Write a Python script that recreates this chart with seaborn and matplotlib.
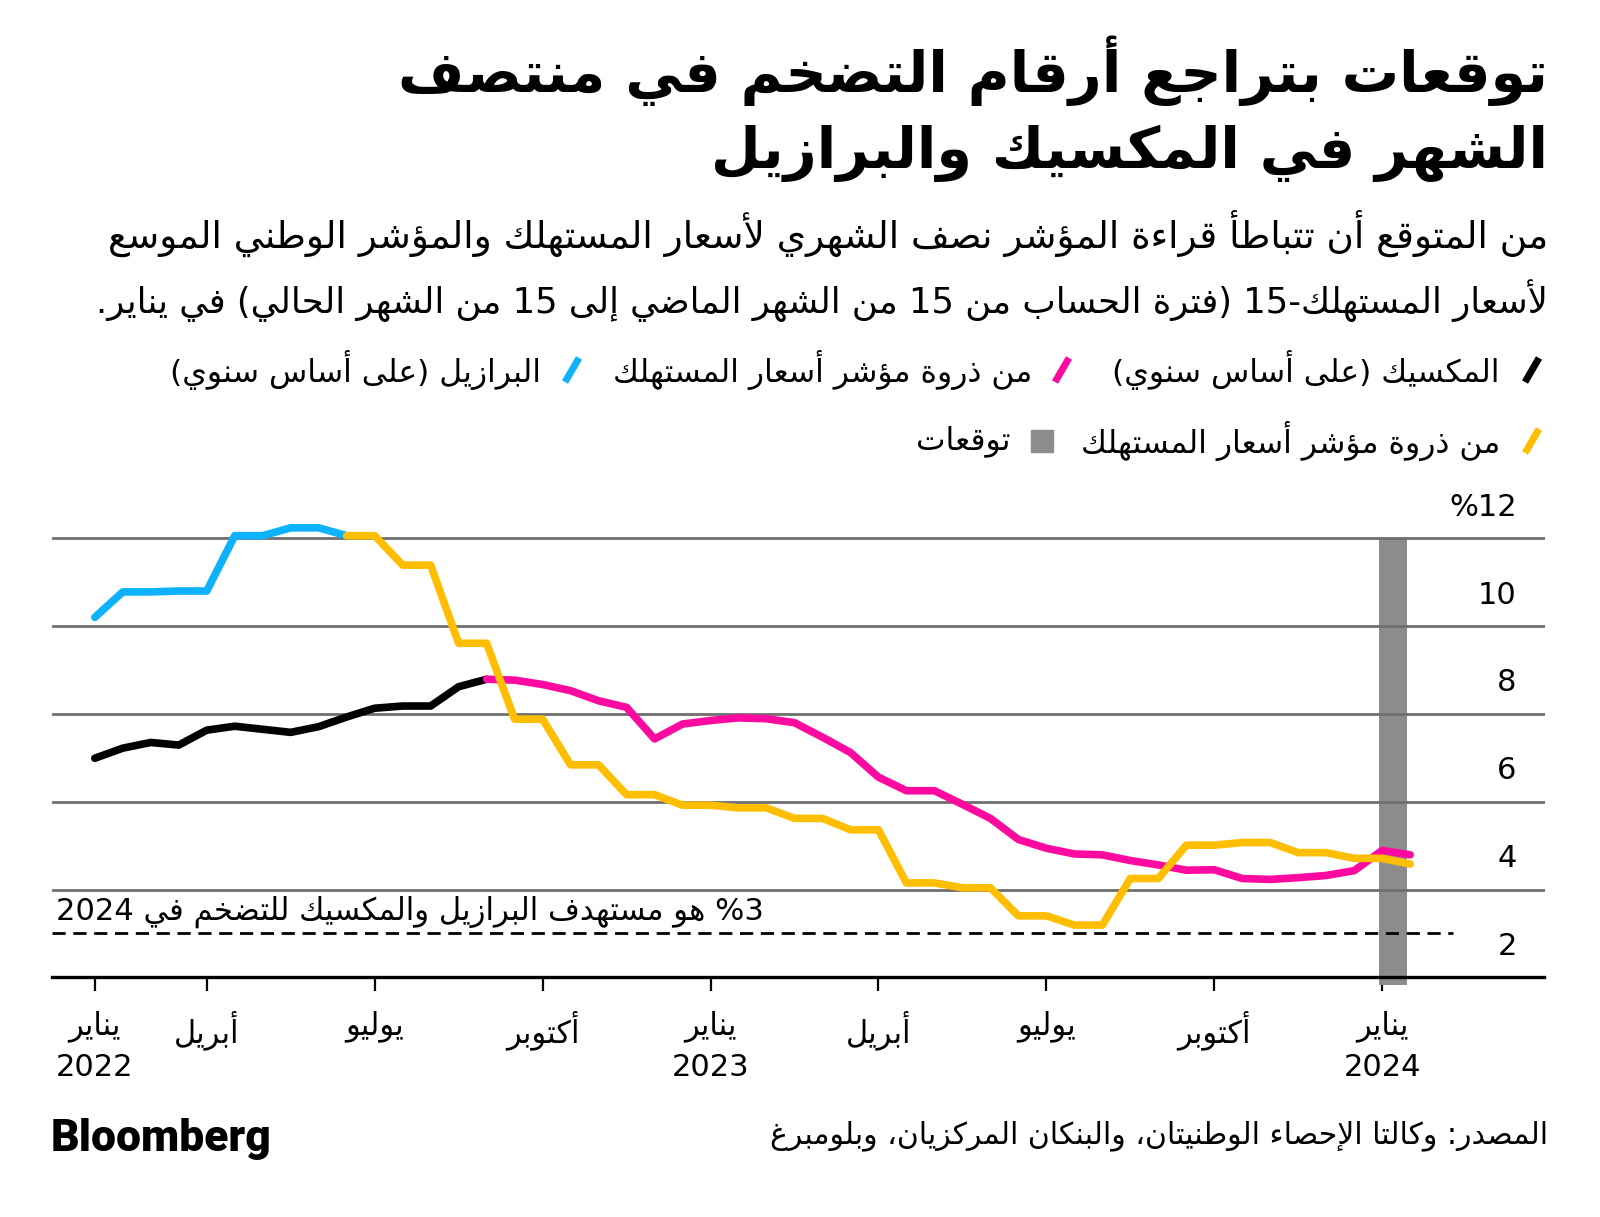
import re
import numpy as np
import pandas as pd
import seaborn as sns
import matplotlib
matplotlib.use("Agg")
import matplotlib.pyplot as plt
from matplotlib.lines import Line2D
from matplotlib.patches import Rectangle
import matplotlib.transforms as mtransforms

# ---------------- données ----------------
# axe x : mois écoulés depuis janvier 2022, relevés tous les demi-mois
mois = np.arange(1.0, 25.0, 0.5)

mexique = [6.99, 7.22, 7.35, 7.29, 7.63, 7.72, 7.65, 7.58, 7.71, 7.93,
           8.13, 8.18, 8.18, 8.62, 8.79, 8.77, 8.67, 8.53, 8.30, 8.15,
           7.43, 7.77, 7.85, 7.91, 7.89, 7.80, 7.47, 7.12, 6.56, 6.25,
           6.25, 5.94, 5.62, 5.14, 4.94, 4.81, 4.79, 4.66, 4.56, 4.44,
           4.45, 4.25, 4.23, 4.27, 4.32, 4.43, 4.89, 4.79]

bresil = [10.20, 10.78, 10.78, 10.80, 10.80, 12.06, 12.06, 12.24, 12.24, 12.06,
          12.06, 11.39, 11.39, 9.61, 9.61, 7.88, 7.88, 6.84, 6.84, 6.16,
          6.16, 5.92, 5.92, 5.86, 5.86, 5.62, 5.62, 5.36, 5.36, 4.15,
          4.15, 4.04, 4.04, 3.40, 3.40, 3.19, 3.19, 4.25, 4.25, 5.01,
          5.01, 5.07, 5.07, 4.84, 4.84, 4.71, 4.71, 4.58]

pic_mexique = 14      # index du pic : début de la série "depuis le pic"
pic_bresil = 9
objectif = 3.0
prevision = (23.95, 24.45)

yticks = [2, 4, 6, 8, 10, 12]
xticks = [1, 3, 6, 9, 12, 15, 18, 21, 24]
xlabels = ["يناير\n2022", "أبريل", "يوليو", "أكتوبر", "يناير\n2023",
           "أبريل", "يوليو", "أكتوبر", "يناير\n2024"]

titre = ["توقعات بتراجع أرقام التضخم في منتصف", "الشهر في المكسيك والبرازيل"]
sous_titre = ["من المتوقع أن تتباطأ قراءة المؤشر نصف الشهري لأسعار المستهلك والمؤشر الوطني الموسع",
              "لأسعار المستهلك-15 (فترة الحساب من 15 من الشهر الماضي إلى 15 من الشهر الحالي) في يناير."]
leg_mex = "المكسيك (على أساس سنوي)"
leg_pic = "من ذروة مؤشر أسعار المستهلك"
leg_bre = "البرازيل (على أساس سنوي)"
leg_prev = "توقعات"
txt_objectif = "%3 هو مستهدف البرازيل والمكسيك للتضخم في 2024"
source = "المصدر: وكالتا الإحصاء الوطنيتان، والبنكان المركزيان، وبلومبرغ"

NOIR, ROSE, BLEU, JAUNE, GRIS = "#000000", "#ff0aa0", "#0db2fa", "#ffbf00", "#8c8c8c"

# ---------------- mise en forme de l'arabe (formes contextuelles + ordre visuel) ----------------
_lettres = [chr(c) for c in list(range(0x621, 0x63B)) + list(range(0x641, 0x64B))]
_nformes = [1, 2, 2, 2, 2, 4, 2, 4, 2, 4, 4, 4, 4, 4, 2, 2, 2, 2, 4, 4, 4, 4, 4, 4, 4, 4,
            4, 4, 4, 4, 4, 4, 4, 2, 2, 4]
FORMES = {}
_c = 0xFE80
for _l, _n in zip(_lettres, _nformes):
    FORMES[_l] = (_c, _n)
    _c += _n
LAM_ALEF = {"\u0622": 0xFEF5, "\u0623": 0xFEF7, "\u0625": 0xFEF9, "\u0627": 0xFEFB}


def _relie_avant(c):
    return c in FORMES and FORMES[c][1] == 4


def _reliable(c):
    return c in FORMES and FORMES[c][1] >= 2


def faconner(s):
    out, prev, i = [], None, 0
    while i < len(s):
        c = s[i]
        if c not in FORMES:
            out.append(c)
            prev = c
            i += 1
            continue
        jp = prev is not None and _relie_avant(prev)
        if c == "\u0644" and i + 1 < len(s) and s[i + 1] in LAM_ALEF:
            out.append(chr(LAM_ALEF[s[i + 1]] + (1 if jp else 0)))
            prev = s[i + 1]
            i += 2
            continue
        base, k = FORMES[c]
        nxt = s[i + 1] if i + 1 < len(s) else None
        jn = k == 4 and nxt is not None and _reliable(nxt)
        if k == 1:
            f = 0
        elif jp and jn:
            f = 3
        elif jp:
            f = 1
        elif jn:
            f = 2
        else:
            f = 0
        out.append(chr(base + f))
        prev = c
        i += 1
    return "".join(out)


_MIROIR = str.maketrans("()", ")(")
_LTR = re.compile(r"(%?[0-9A-Za-z]+%?)")


def ar(s):
    lignes = []
    for ligne in s.split("\n"):
        parts = _LTR.split(faconner(ligne))
        vis = []
        for p in reversed(parts):
            vis.append(p if _LTR.fullmatch(p) else p[::-1].translate(_MIROIR))
        lignes.append("".join(vis))
    return "\n".join(lignes)


# ---------------- figure ----------------
sns.set_style("white")
plt.rcParams["font.family"] = ["DejaVu Sans"]
plt.rcParams["lines.scale_dashes"] = False
plt.rcParams["text.color"] = "black"
plt.rcParams["xtick.color"] = "black"
plt.rcParams["xtick.labelcolor"] = "black"

W, H = 1600, 1217
fig = plt.figure(figsize=(W / 100, H / 100), dpi=100)


def fx(px):
    return px / W


def fy(py):
    return 1 - py / H


ax = fig.add_axes([fx(51.7), fy(977.3), fx(1544.5) - fx(51.7), fy(512) - fy(977.3)])
ax.set_xlim(0.23, 26.9)
ax.set_ylim(2, 12.6)

df_mex = pd.DataFrame({"mois": mois, "valeur": mexique})
df_bre = pd.DataFrame({"mois": mois, "valeur": bresil})

# bande des prévisions
ax.fill_between(list(prevision), 1.83, 12.0, color=GRIS, lw=0, zorder=1, clip_on=False)

for v in yticks[1:]:
    ax.axhline(v, color="#6f6f6f", lw=2.0, zorder=2)

renderer = fig.canvas.get_renderer()


def ajuste(t, largeur):
    w = t.get_window_extent(renderer).width
    t.set_fontsize(t.get_fontsize() * largeur / w)
    return t.get_fontsize()


mixte = mtransforms.blended_transform_factory(ax.transAxes, ax.transData)
ax.axhline(objectif, xmax=0.9385, color="black", lw=2.0, dashes=(9.5, 5.5), zorder=3)
tobj = ax.text(0.003, objectif + 0.5, ar(txt_objectif), transform=mixte,
               ha="left", va="center", fontsize=19, zorder=3)
ajuste(tobj, 705)

kw = dict(linewidth=5.5, solid_capstyle="round", solid_joinstyle="round", zorder=4, estimator=None)
sns.lineplot(data=df_mex.iloc[:pic_mexique + 1], x="mois", y="valeur", color=NOIR, ax=ax, **kw)
sns.lineplot(data=df_mex.iloc[pic_mexique:], x="mois", y="valeur", color=ROSE, ax=ax, **kw)
sns.lineplot(data=df_bre.iloc[:pic_bresil + 1], x="mois", y="valeur", color=BLEU, ax=ax, **kw)
sns.lineplot(data=df_bre.iloc[pic_bresil:], x="mois", y="valeur", color=JAUNE, ax=ax, **kw)

ax.set_xlabel("")
ax.set_ylabel("")
for s in ["top", "left", "right"]:
    ax.spines[s].set_visible(False)
ax.spines["bottom"].set_color("black")
ax.spines["bottom"].set_linewidth(2.4)
ax.spines["bottom"].set_zorder(5)
ax.set_yticks([])
ax.set_xticks(xticks)
ax.set_xticklabels([ar(l) for l in xlabels], fontsize=22, linespacing=1.45)
ax.tick_params(axis="x", length=10, width=1.6, color="black", pad=14, direction="out", bottom=True)

for v in yticks:
    lab = "%" + str(v) if v == yticks[-1] else str(v)
    ax.text(0.9814, v + 0.706, lab, transform=mixte, ha="right", va="center", fontsize=22)

# ---------------- textes ----------------
t1 = fig.text(fx(1548), fy(71), ar(titre[0]), ha="right", va="center", fontsize=40, fontweight="bold")
fs = ajuste(t1, 1150)
fig.text(fx(1548), fy(153), ar(titre[1]), ha="right", va="center", fontsize=fs, fontweight="bold")

s1 = fig.text(fx(1548), fy(233), ar(sous_titre[0]), ha="right", va="center", fontsize=22)
ajuste(s1, 1441)
s2 = fig.text(fx(1548), fy(301), ar(sous_titre[1]), ha="right", va="center", fontsize=22)
ajuste(s2, 1451)


def marque(cx, cy, couleur):
    fig.add_artist(Line2D([fx(cx - 7), fx(cx + 7)], [fy(cy + 12), fy(cy - 12)], color=couleur,
                          lw=5, solid_capstyle="butt", transform=fig.transFigure))


l1 = fig.text(fx(1500), fy(370), ar(leg_mex), ha="right", va="center", fontsize=20)
fs = ajuste(l1, 387)
marque(1532, 370, NOIR)
fig.text(fx(1032), fy(370), ar(leg_pic), ha="right", va="center", fontsize=fs)
marque(1062, 370, ROSE)
fig.text(fx(541), fy(370), ar(leg_bre), ha="right", va="center", fontsize=fs)
marque(572, 370, BLEU)
fig.text(fx(1500), fy(441), ar(leg_pic), ha="right", va="center", fontsize=fs)
marque(1532, 441, JAUNE)
fig.add_artist(Rectangle((fx(1031), fy(452)), fx(22), 22 / H, color=GRIS, transform=fig.transFigure))
fig.text(fx(1011), fy(441), ar(leg_prev), ha="right", va="center", fontsize=fs)

src = fig.text(fx(1548), fy(1136), ar(source), ha="right", va="center", fontsize=19)
ajuste(src, 777)
b = fig.text(fx(51), fy(1139), "Bloomberg", ha="left", va="center", fontsize=29,
             fontfamily="Roboto", fontweight="black", color="black")
ajuste(b, 220)

fig.savefig("out.png", dpi=100, facecolor="white")
plt.close(fig)
